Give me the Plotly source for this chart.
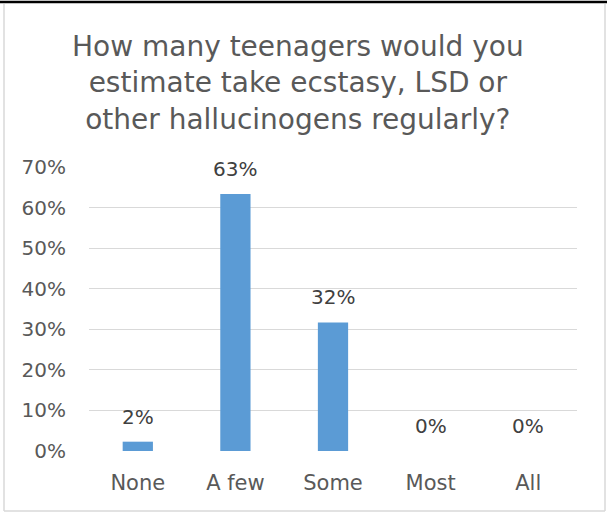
import plotly.graph_objects as go

categories = ["None", "A few", "Some", "Most", "All"]
values = [0.023, 0.634, 0.317, 0.0, 0.0]
tick_vals = [0, 0.1, 0.2, 0.3, 0.4, 0.5, 0.6, 0.7]
tick_text = ["0%", "10%", "20%", "30%", "40%", "50%", "60%", "70%"]
title_text = "How many teenagers would you<br>estimate take ecstasy, LSD or<br>other hallucinogens regularly?"

W, H = 616, 513
L, R, T, B = 89, 39, 167, 62
FONT = "DejaVu Sans"
GREY = "#595959"

fig = go.Figure(go.Bar(
    x=categories, y=values,
    marker=dict(color="#5B9BD5", line=dict(width=0)),
    width=0.31, hoverinfo="x+y",
))

for c, v in zip(categories, values):
    fig.add_annotation(x=c, y=v, text=f"{v:.0%}", showarrow=False,
                       yanchor="middle", yshift=25,
                       font=dict(family=FONT, size=20, color="#404040"))

pw, ph = W - L - R, H - T - B
def px_x(p): return (p - L) / pw
def px_y(p): return (H - B - p) / ph

fig.add_annotation(xref="paper", yref="paper", x=px_x(298), y=px_y(28),
                   xanchor="center", yanchor="top", showarrow=False,
                   text=title_text, align="center",
                   font=dict(family=FONT, size=28, color=GREY))

fig.update_layout(
    width=W, height=H,
    margin=dict(l=L, r=R, t=T, b=B),
    paper_bgcolor="white", plot_bgcolor="white",
    showlegend=False,
    xaxis=dict(showgrid=False, showline=False, ticks="", zeroline=False,
               tickfont=dict(family=FONT, size=21, color=GREY),
               ticklabelstandoff=17),
    yaxis=dict(range=[0, 0.7005], tickvals=tick_vals, ticktext=tick_text,
               showgrid=True, gridcolor="#D9D9D9", gridwidth=1.3,
               zeroline=False, showline=False, ticks="",
               tickfont=dict(family=FONT, size=20, color=GREY),
               ticklabelstandoff=22),
    shapes=[
        dict(type="line", xref="paper", yref="paper",
             x0=px_x(4), x1=px_x(4), y0=px_y(511), y1=px_y(4),
             line=dict(color="#D9D9D9", width=1.5)),
        dict(type="line", xref="paper", yref="paper",
             x0=px_x(605), x1=px_x(605), y0=px_y(511), y1=px_y(4),
             line=dict(color="#D9D9D9", width=1.5)),
        dict(type="line", xref="paper", yref="paper",
             x0=px_x(4), x1=px_x(605), y0=px_y(511), y1=px_y(511),
             line=dict(color="#D9D9D9", width=1.5)),
        dict(type="line", xref="paper", yref="paper",
             x0=px_x(0), x1=px_x(607), y0=px_y(2), y1=px_y(2),
             line=dict(color="black", width=2.5)),
    ],
)

fig.write_html("out.html", config={"displayModeBar": False},
               post_script="document.body.style.margin='0';document.body.style.padding='0';")
